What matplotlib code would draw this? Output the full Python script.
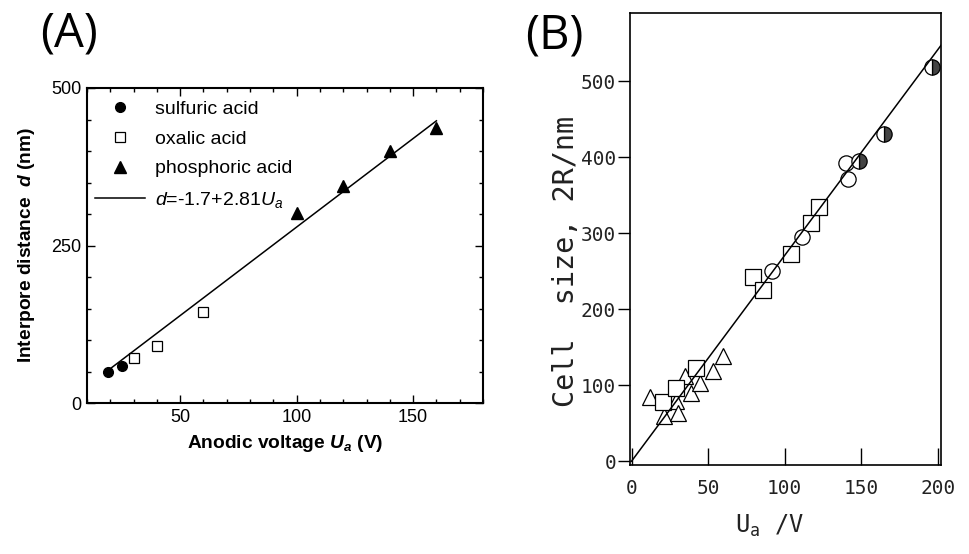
import matplotlib
matplotlib.use("Agg")
import matplotlib.pyplot as plt
from matplotlib.ticker import MultipleLocator
import numpy as np

# ── data ─────────────────────────────────────────────────────────────────────
# (A) interpore distance vs anodic voltage
sulf_u = [19, 25]
sulf_d = [50, 58]
oxal_u = [30, 40, 60]
oxal_d = [71, 91, 145]
phos_u = [100, 120, 140, 160]
phos_d = [301, 345, 400, 437]
fit_a_u = [18, 160]
fit_a_intercept = -1.7
fit_a_slope = 2.81

# (B) cell size vs voltage
tri_u = [12, 21, 29, 30.5, 35, 39, 45, 53, 60]
tri_d = [84, 60, 79, 63, 112, 90, 103, 119, 138]
sq_u = [20.5, 29, 42, 79.5, 86, 104, 117, 122.5]
sq_d = [78, 96, 123, 242, 226, 273, 314, 334]
circ_u = [92, 111.5, 140, 141.5]
circ_d = [251, 295, 393, 371]
half_u = [148.7, 164.5, 196]
half_d = [395, 431, 519]
fit_b_u = [0, 202]
fit_b_slope = 2.71

plt.rcParams["mathtext.fontset"] = "custom"
plt.rcParams["mathtext.rm"] = "Liberation Sans"
plt.rcParams["mathtext.it"] = "Liberation Sans:italic"
plt.rcParams["mathtext.bf"] = "Liberation Sans:bold"
plt.rcParams["mathtext.bfit"] = "Liberation Sans:italic:bold"
plt.rcParams["mathtext.sf"] = "DejaVu Sans Mono"

SANS = ["Liberation Sans", "DejaVu Sans"]
MONO = ["DejaVu Sans Mono", "DejaVu Sans"]

W, H = 969, 554
fig = plt.figure(figsize=(W / 100, H / 100), dpi=100)


def px_axes(l, t, r, b):
    return fig.add_axes([l / W, 1 - b / H, (r - l) / W, (b - t) / H])


# ── panel A ──────────────────────────────────────────────────────────────────
ax = px_axes(87, 88, 483, 403)
ax.plot(sulf_u, sulf_d, "o", color="black", ms=7, label="sulfuric acid")
ax.plot(oxal_u, oxal_d, "s", mfc="white", mec="black", mew=0.9, ms=6.5,
        label="oxalic acid")
ax.plot(phos_u, phos_d, "^", color="black", ms=8, label="phosphoric acid")
fu = np.array(fit_a_u)
ax.plot(fu, fit_a_intercept + fit_a_slope * fu, "-", color="black", lw=1.1,
        label=r"$\mathit{d}$=-1.7+2.81$\mathit{U}_{\mathit{a}}$")

ax.set_xlim(10, 180)
ax.set_ylim(0, 500)
ax.xaxis.set_major_locator(MultipleLocator(50))
ax.xaxis.set_minor_locator(MultipleLocator(10))
ax.yaxis.set_major_locator(MultipleLocator(250))
ax.yaxis.set_minor_locator(MultipleLocator(50))
ax.tick_params(which="both", direction="in", top=True, right=True, width=1)
ax.tick_params(which="major", length=6, labelsize=13, pad=4)
ax.tick_params(which="minor", length=3)
for lab in ax.get_xticklabels() + ax.get_yticklabels():
    lab.set_family(SANS)
for s in ax.spines.values():
    s.set_linewidth(1.5)

ax.set_ylabel(r"Interpore distance  $\mathbfit{d}$ (nm)", family=SANS,
              fontweight="bold", fontsize=13.8, labelpad=10)
ax.set_xlabel(r"Anodic voltage $\mathbfit{U}_{\mathbfit{a}}$ (V)", family=SANS,
              fontweight="bold", fontsize=13.8, labelpad=5)

leg = ax.legend(loc="upper left", bbox_to_anchor=(0.0, 0.985), frameon=False,
                prop={"family": SANS, "size": 14}, handlelength=2.6,
                handletextpad=0.5, labelspacing=0.62, borderaxespad=0.2,
                borderpad=0.2)

fig.text(40 / W, 1 - 34 / H, "(A)", fontsize=34, family=["Open Sans", "DejaVu Sans"],
         va="center", ha="left")

# ── panel B ──────────────────────────────────────────────────────────────────
bx = px_axes(630, 13, 941, 465)
bx.plot(tri_u, tri_d, "^", mfc="white", mec="black", mew=0.9, ms=11)
bx.plot(sq_u, sq_d, "s", mfc="white", mec="black", mew=0.9, ms=12)
bx.plot(circ_u, circ_d, "o", mfc="white", mec="black", mew=0.9, ms=11)
bx.plot(half_u, half_d, "o", fillstyle="right", mfc="#444444",
        mfcalt="white", mec="black", mew=0.9, ms=11)
fb = np.array(fit_b_u)
bx.plot(fb, fit_b_slope * fb, "-", color="black", lw=1.1)

bx.set_xlim(-1, 202)
bx.set_ylim(-5, 590)
bx.set_xticks([0, 50, 100, 150, 200])
bx.set_yticks([0, 100, 200, 300, 400, 500])
bx.tick_params(axis="x", direction="in", length=12, width=1, labelsize=14, pad=10)
bx.tick_params(axis="y", direction="out", length=9, width=1, labelsize=14, pad=1)
for lab in bx.get_xticklabels() + bx.get_yticklabels():
    lab.set_family(MONO)
    lab.set_color("#222222")
for s in bx.spines.values():
    s.set_linewidth(1.2)

bx.set_ylabel("Cell  size, 2R/nm", family=MONO, fontsize=20.5, color="#222222")
bx.yaxis.set_label_coords(-0.16, 0.45)
bx.set_xlabel(r"$\mathsf{U_a}$ /V", family=MONO, fontsize=17, color="#222222")
bx.xaxis.set_label_coords(0.45, -0.105)

fig.text(525 / W, 1 - 36 / H, "(B)", fontsize=34, family=["Open Sans", "DejaVu Sans"],
         va="center", ha="left")

fig.savefig("out.png", dpi=100)
